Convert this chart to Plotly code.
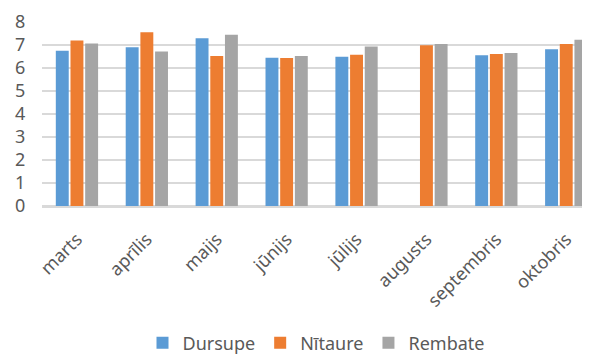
import plotly.graph_objects as go

months = ["marts", "aprīlis", "maijs", "jūnijs", "jūlijs", "augusts", "septembris", "oktobris"]
dursupe = [6.75, 6.90, 7.29, 6.45, 6.49, None, 6.55, 6.81]
nitaure = [7.20, 7.55, 6.52, 6.43, 6.58, 6.99, 6.61, 7.04]
rembate = [7.07, 6.72, 7.45, 6.52, 6.94, 7.04, 6.65, 7.23]

series = [("Dursupe", dursupe, "#5b9bd5"), ("Nītaure", nitaure, "#ed7d31"), ("Rembate", rembate, "#a5a5a5")]

fig = go.Figure()
for name, vals, col in series:
    fig.add_trace(go.Bar(x=months, y=vals, name=name, marker=dict(color=col, line=dict(width=0))))

font = "Noto Sans, Open Sans, sans-serif"
fig.update_layout(
    width=582, height=346,
    margin=dict(l=34, r=0, t=14, b=148),
    paper_bgcolor="white", plot_bgcolor="white",
    barmode="group", bargap=0.37, bargroupgap=0.12,
    font=dict(family=font, color="#595959"),
    showlegend=True,
    legend=dict(orientation="h", x=0.5, xanchor="center", yref="container", y=0.032, yanchor="middle",
                font=dict(size=18, color="#595959"), itemwidth=30, traceorder="normal"),
    xaxis=dict(range=[-0.5, 7.34], tickangle=-45, tickfont=dict(size=18, color="#595959"),
               automargin=False,
               showgrid=False, showline=True, linecolor="#d9d9d9", linewidth=1.5,
               ticks="outside", ticklen=14, tickcolor="rgba(0,0,0,0)"),
    yaxis=dict(range=[0, 8], dtick=1, tickfont=dict(size=18, color="#595959"),
               automargin=False,
               showgrid=True, gridcolor="#d9d9d9", gridwidth=1.5,
               zeroline=True, zerolinecolor="#d9d9d9", zerolinewidth=1.5,
               ticks="outside", ticklen=12, tickcolor="rgba(0,0,0,0)"),
)
fig.write_html("out.html")
